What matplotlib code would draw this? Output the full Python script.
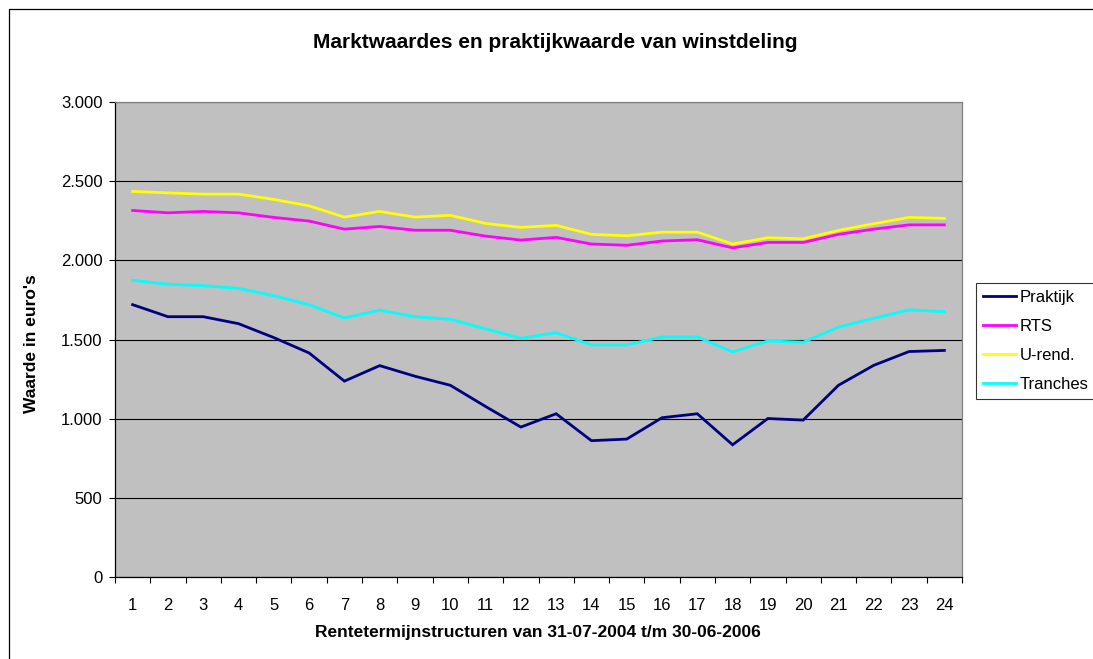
import matplotlib
matplotlib.use("Agg")
import matplotlib.pyplot as plt
from matplotlib.patches import Rectangle
from matplotlib.ticker import FixedLocator, FuncFormatter

categories = list(range(1, 25))
praktijk = [1720, 1644, 1644, 1600, 1512, 1415, 1237, 1335, 1268, 1211, 1077, 947,
            1031, 861, 871, 1006, 1031, 835, 1001, 991, 1211, 1337, 1424, 1431]
rts = [2315, 2300, 2309, 2300, 2271, 2248, 2197, 2214, 2190, 2190, 2153, 2128,
       2145, 2103, 2095, 2122, 2130, 2079, 2113, 2113, 2164, 2197, 2224, 2224]
urend = [2435, 2426, 2418, 2418, 2385, 2344, 2273, 2309, 2273, 2284, 2233, 2208,
         2221, 2164, 2155, 2178, 2178, 2103, 2143, 2136, 2189, 2231, 2271, 2265]
tranches = [1874, 1849, 1840, 1823, 1777, 1720, 1636, 1685, 1644, 1628, 1567, 1508,
            1543, 1466, 1466, 1516, 1516, 1422, 1491, 1483, 1578, 1634, 1687, 1676]
series_names = ["Praktijk", "RTS", "U-rend.", "Tranches"]
series_colors = ["#000080", "#FF00FF", "#FFFF00", "#00FFFF"]
yticks = [0, 500, 1000, 1500, 2000, 2500, 3000]

plt.rcParams['font.family'] = ['Liberation Sans', 'DejaVu Sans']

W, H = 1093, 659
fig = plt.figure(figsize=(W / 100, H / 100), dpi=100)
fig.patch.set_facecolor('white')

left, right, top, bottom = 115, 962, 102, 577
ax = fig.add_axes([left / W, 1 - bottom / H, (right - left) / W, (bottom - top) / H])
ax.set_facecolor('#C0C0C0')

handles = []
for vals, name, col in zip([praktijk, rts, urend, tranches], series_names, series_colors):
    h, = ax.plot(categories, vals, color=col, lw=2.0, label=name, zorder=3,
                 solid_joinstyle='miter')
    handles.append(h)

ax.set_xlim(0.5, 24.5)
ax.set_ylim(0, 3000)
ax.set_yticks(yticks)
ax.yaxis.set_major_formatter(FuncFormatter(lambda v, p: f"{int(v):,}".replace(",", ".")))
ax.xaxis.set_major_locator(FixedLocator([c + 0.5 for c in [0] + categories]))
ax.xaxis.set_major_formatter(FuncFormatter(lambda v, p: ""))
ax.xaxis.set_minor_locator(FixedLocator(categories))
ax.xaxis.set_minor_formatter(FuncFormatter(lambda v, p: str(int(round(v)))))
ax.tick_params(axis='x', which='minor', length=0, labelsize=12, pad=15)
ax.tick_params(axis='x', which='major', length=4, width=0.8, direction='out', color='black')
ax.tick_params(axis='y', length=4, width=0.8, direction='out', labelsize=12, pad=5)

ax.grid(axis='y', color='black', lw=0.8, zorder=1)
ax.set_axisbelow(True)
for s in ['left', 'bottom']:
    ax.spines[s].set_color('black')
    ax.spines[s].set_linewidth(0.9)
for s in ['top', 'right']:
    ax.spines[s].set_color('#808080')
    ax.spines[s].set_linewidth(0.9)

fig.text(555 / W, 1 - 42 / H, "Marktwaardes en praktijkwaarde van winstdeling",
         ha='center', va='center', fontsize=15.0, fontweight='bold')
fig.text(538 / W, 1 - 633 / H, "Rentetermijnstructuren van 31-07-2004 t/m 30-06-2006",
         ha='center', va='center', fontsize=12.5, fontweight='bold')
fig.text(32 / W, 1 - 344 / H, "Waarde in euro's", ha='center', va='center',
         rotation=90, fontsize=12.5, fontweight='bold')

leg = fig.legend(handles=handles, labels=series_names, loc='upper left',
                 bbox_to_anchor=(976 / W, 1 - 283 / H), fontsize=12, frameon=True,
                 fancybox=False, edgecolor='black', handlelength=2.0, handletextpad=0.2,
                 borderpad=0.4, labelspacing=0.85, borderaxespad=0)
leg.get_frame().set_linewidth(0.8)
for lh in leg.get_lines():
    lh.set_linewidth(2.0)

fig.patches.append(Rectangle((9 / W, -0.05), 1.1, 1.05 - 9 / H,
                             transform=fig.transFigure, fill=False,
                             edgecolor='black', lw=0.9))

fig.savefig("out.png", dpi=100)
